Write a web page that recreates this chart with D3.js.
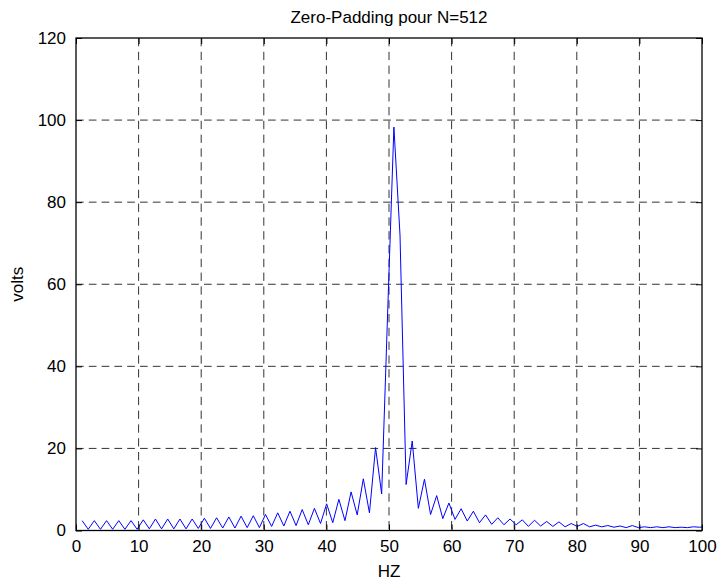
<!DOCTYPE html>
<html>
<head>
<meta charset="utf-8">
<script src="https://cdn.jsdelivr.net/npm/d3@7/dist/d3.min.js"></script>
<style>
  html, body { margin: 0; padding: 0; background: #fff; }
  svg { display: block; }
  text { font-family: "Liberation Sans", Arial, Helvetica, sans-serif; fill: #000; }
</style>
</head>
<body>
<svg id="chart" width="719" height="583"></svg>
<script>
// Spectrum magnitude after zero-padding to N = 512 points (fs = 500 Hz)
const sampleRate = 500;
const fftSize = 512;
const firstBin = 1;

// |X(k)| in volts for bins k = 1 .. 103
const magnitude = [
  2.4, 0.3, 2.4, 0.3, 2.4, 0.3, 2.4, 0.3, 2.4, 0.3,
  2.6, 0.4, 2.8, 0.4, 2.8, 0.4, 2.8, 0.4, 2.8, 0.5,
  3.0, 0.5, 3.1, 0.6, 3.3, 0.6, 3.5, 0.7, 3.6, 0.7,
  3.9, 1.0, 4.3, 1.1, 4.7, 1.2, 5.1, 1.4, 5.4, 1.7,
  6.5, 1.9, 7.6, 2.4, 9.4, 3.8, 12.6, 4.3, 20.2, 8.9,
  54.0, 98.3, 72.0, 11.2, 21.8, 5.4, 12.5, 3.9, 8.5, 2.9,
  6.7, 2.7, 5.3, 2.3, 4.7, 1.9, 3.8, 1.5, 3.1, 1.4,
  2.8, 1.4, 2.6, 1.0, 2.5, 1.1, 2.2, 1.0, 2.1, 0.9,
  1.7, 1.0, 1.7, 0.9, 1.3, 0.9, 1.2, 0.8, 1.1, 0.7,
  1.2, 0.7, 0.9, 0.7, 0.9, 0.7, 0.9, 0.7, 0.8, 0.7,
  0.9, 0.8, 0.9
];

const xTicks = [0, 10, 20, 30, 40, 50, 60, 70, 80, 90, 100];
const yTicks = [0, 20, 40, 60, 80, 100, 120];

const titleText = "Zero-Padding pour N=512";
const xLabelText = "HZ";
const yLabelText = "volts";

const points = magnitude.map((v, i) => ({
  f: (firstBin + i) * sampleRate / fftSize,
  v: v
}));

const plot = { left: 76, right: 702, top: 38, bottom: 530.5 };

const x = d3.scaleLinear().domain([0, 100]).range([plot.left, plot.right]);
const y = d3.scaleLinear().domain([0, 120]).range([plot.bottom, plot.top]);

const svg = d3.select("#chart");
const fontSize = 17;

// clip for the trace
svg.append("defs").append("clipPath").attr("id", "plotClip")
  .append("rect")
  .attr("x", plot.left).attr("y", plot.top)
  .attr("width", plot.right - plot.left)
  .attr("height", plot.bottom - plot.top);

// dashed grid
const grid = svg.append("g").attr("class", "grid");
grid.selectAll("line.vgrid")
  .data(xTicks.slice(1, -1))
  .join("line")
  .attr("class", "vgrid")
  .attr("x1", d => x(d)).attr("x2", d => x(d))
  .attr("y1", plot.top).attr("y2", plot.bottom)
  .attr("stroke", "#333")
  .attr("stroke-width", 1)
  .attr("stroke-dasharray", "8.3,5.5");
grid.selectAll("line.hgrid")
  .data(yTicks.slice(1, -1))
  .join("line")
  .attr("class", "hgrid")
  .attr("x1", plot.left).attr("x2", plot.right)
  .attr("y1", d => y(d)).attr("y2", d => y(d))
  .attr("stroke", "#333")
  .attr("stroke-width", 1)
  .attr("stroke-dasharray", "7.7,5.1");

// spectrum trace
const line = d3.line().x(d => x(d.f)).y(d => y(d.v));
svg.append("path")
  .datum(points)
  .attr("clip-path", "url(#plotClip)")
  .attr("fill", "none")
  .attr("stroke", "#0000ff")
  .attr("stroke-width", 1)
  .attr("stroke-linejoin", "miter")
  .attr("d", line);

// axes: inward ticks on all four sides
const tickLen = 6;
const bottomAxis = d3.axisBottom(x).tickValues(xTicks).tickSize(-tickLen).tickPadding(9).tickFormat(d3.format("d"));
const topAxis = d3.axisTop(x).tickValues(xTicks).tickSize(-tickLen).tickFormat("");
const leftAxis = d3.axisLeft(y).tickValues(yTicks).tickSize(-tickLen).tickPadding(10).tickFormat(d3.format("d"));
const rightAxis = d3.axisRight(y).tickValues(yTicks).tickSize(-tickLen).tickFormat("");

function styleAxis(g) {
  g.select(".domain").remove();
  g.selectAll(".tick line").attr("stroke", "#000").attr("stroke-width", 1);
  g.selectAll(".tick text")
    .attr("font-size", fontSize)
    .attr("font-family", "Liberation Sans, Arial, sans-serif")
    .attr("fill", "#000");
}

svg.append("g").attr("transform", `translate(0,${plot.bottom})`).call(bottomAxis).call(styleAxis);
svg.append("g").attr("transform", `translate(0,${plot.top})`).call(topAxis).call(styleAxis);
svg.append("g").attr("transform", `translate(${plot.left},0)`).call(leftAxis).call(styleAxis);
svg.append("g").attr("transform", `translate(${plot.right},0)`).call(rightAxis).call(styleAxis);

// frame
svg.append("rect")
  .attr("x", plot.left).attr("y", plot.top)
  .attr("width", plot.right - plot.left)
  .attr("height", plot.bottom - plot.top)
  .attr("fill", "none")
  .attr("stroke", "#000")
  .attr("stroke-width", 1.3);

// title and axis labels
svg.append("text")
  .attr("x", (plot.left + plot.right) / 2)
  .attr("y", 22.5)
  .attr("text-anchor", "middle")
  .attr("font-size", fontSize)
  .text(titleText);

svg.append("text")
  .attr("x", (plot.left + plot.right) / 2)
  .attr("y", 577)
  .attr("text-anchor", "middle")
  .attr("font-size", fontSize)
  .text(xLabelText);

svg.append("text")
  .attr("transform", `translate(23,${(plot.top + plot.bottom) / 2}) rotate(-90)`)
  .attr("text-anchor", "middle")
  .attr("font-size", fontSize)
  .text(yLabelText);
</script>
</body>
</html>
